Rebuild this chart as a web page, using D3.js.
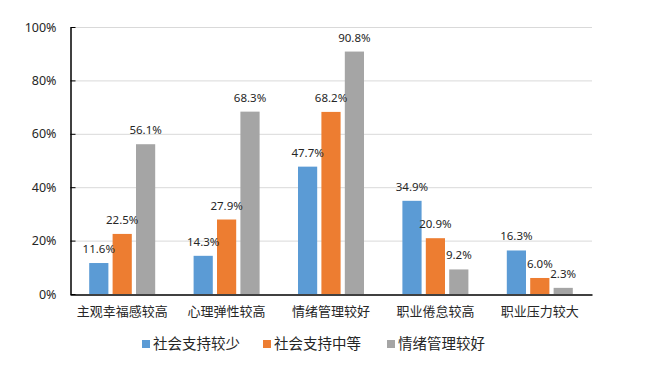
<!DOCTYPE html>
<html>
<head>
<meta charset="utf-8">
<script src="https://d3js.org/d3.v7.min.js"></script>
<style>
  body { margin: 0; background: #fff; }
  text { font-family: "Noto Sans", "Noto Sans CJK SC", sans-serif; fill: #262626; }
  .grid line { stroke: #d9d9d9; stroke-width: 1; }
  .axis path, .axis line { stroke: #000; }
</style>
</head>
<body>
<svg id="chart" width="647" height="366"></svg>
<script>
  // data
  var categories = ['主观幸福感较高', '心理弹性较高', '情绪管理较好', '职业倦怠较高', '职业压力较大'];
  var seriesNames = ['社会支持较少', '社会支持中等', '情绪管理较好'];
  var lowSupport = [0.116, 0.143, 0.477, 0.349, 0.163];
  var midSupport = [0.225, 0.279, 0.682, 0.209, 0.060];
  var goodEmotion = [0.561, 0.683, 0.908, 0.092, 0.023];
  var yTicks = [0, 0.2, 0.4, 0.6, 0.8, 1.0];
  var colors = ['#5b9bd5', '#ed7d31', '#a5a5a5'];

  var seriesValues = [lowSupport, midSupport, goodEmotion];
  var rows = [];
  categories.forEach(function(c, i) {
    seriesNames.forEach(function(s, j) {
      rows.push({ cat: c, series: s, value: seriesValues[j][i], idx: j });
    });
  });

  var svg = d3.select('#chart');
  var plotLeft = 70, plotRight = 592, plotTop = 27, plotBottom = 294;

  var x0 = d3.scaleBand().domain(categories).range([plotLeft, plotRight]);
  var bw = x0.bandwidth();
  var x1 = d3.scaleBand().domain(seriesNames)
    .range([bw / 2 - 33, bw / 2 + 33]).paddingInner(0.18);
  var y = d3.scaleLinear().domain([0, 1]).range([plotBottom, plotTop]);

  // gridlines
  svg.append('g').attr('class', 'grid')
    .selectAll('line')
      .data(yTicks.filter(function(d) { return d > 0; }))
    .enter().append('line')
      .attr('x1', plotLeft).attr('x2', plotRight)
      .attr('y1', function(d) { return y(d) + 0.5; })
      .attr('y2', function(d) { return y(d) + 0.5; });

  // y axis
  var yAxis = d3.axisLeft(y).tickValues(yTicks)
    .tickFormat(d3.format('.0%')).tickSize(0).tickPadding(14);
  var ya = svg.append('g').attr('class', 'axis')
    .attr('transform', 'translate(' + (plotLeft + 0.5) + ',0)')
    .call(yAxis);
  ya.selectAll('text').style('font-size', '12.5px').style('fill', '#262626');
  ya.select('.domain').attr('stroke-width', 1.5);
  ya.selectAll('.tk')
      .data(yTicks)
    .enter().append('line')
      .attr('x1', 0).attr('x2', 5)
      .attr('y1', function(d) { return y(d) + 0.5; })
      .attr('y2', function(d) { return y(d) + 0.5; })
      .attr('stroke', '#000');

  // bars
  var bars = svg.append('g');
  bars.selectAll('rect')
      .data(rows)
    .enter().append('rect')
      .attr('x', function(d) { return x0(d.cat) + x1(d.series); })
      .attr('y', function(d) { return y(d.value); })
      .attr('width', x1.bandwidth())
      .attr('height', function(d) { return plotBottom - y(d.value); })
      .attr('fill', function(d) { return colors[d.idx]; });

  // value labels
  bars.selectAll('text')
      .data(rows)
    .enter().append('text')
      .attr('x', function(d) { return x0(d.cat) + x1(d.series) + x1.bandwidth() / 2; })
      .attr('y', function(d) { return y(d.value) - 10; })
      .attr('text-anchor', 'middle')
      .style('font-size', '11.5px')
      .text(function(d) { return d3.format('.1%')(d.value); });

  // x axis
  var xAxis = d3.axisBottom(x0).tickSize(0).tickPadding(12);
  var xa = svg.append('g').attr('class', 'axis')
    .attr('transform', 'translate(0,' + (plotBottom + 0.5) + ')')
    .call(xAxis);
  xa.select('.domain').attr('stroke-width', 1.5);
  xa.selectAll('text').style('font-size', '13px')
    .style('font-family', '"Noto Sans CJK SC", sans-serif').style('fill', '#262626');

  // legend
  var legendX = [142, 263, 387];
  var lg = svg.append('g').selectAll('g')
      .data(seriesNames)
    .enter().append('g')
      .attr('transform', function(d, i) { return 'translate(' + legendX[i] + ',344)'; });
  lg.append('rect')
    .attr('x', 0).attr('y', -4).attr('width', 8).attr('height', 8)
    .attr('fill', function(d, i) { return colors[i]; });
  lg.append('text')
    .attr('x', 11).attr('dy', '0.35em')
    .style('font-size', '14.5px')
    .style('font-family', '"Noto Sans CJK SC", sans-serif')
    .text(function(d) { return d; });
</script>
</body>
</html>
